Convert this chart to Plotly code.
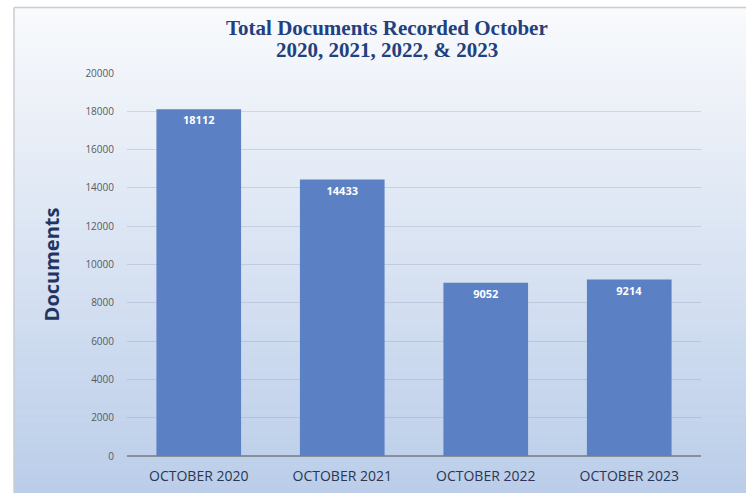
import plotly.graph_objects as go

categories = ["OCTOBER 2020", "OCTOBER 2021", "OCTOBER 2022", "OCTOBER 2023"]
documents = [18112, 14433, 9052, 9214]
y_ticks = list(range(0, 20001, 2000))
y_tick_labels = [str(v) for v in y_ticks]
title_lines = ["Total Documents Recorded October", "2020, 2021, 2022, & 2023"]

W, H = 746, 493
ML, MR, MT, MB = 127, 45, 73, 37
PW, PH = W - ML - MR, H - MT - MB

def px_x(px):
    return (px - ML) / PW

def px_y(py):
    return (H - MB - py) / PH

fig = go.Figure()
fig.add_trace(go.Bar(
    x=categories, y=documents,
    marker=dict(color="#5b80c4", line=dict(width=0)),
    width=0.59,
    text=[str(v) for v in documents],
    textposition="inside", insidetextanchor="end",
    textfont=dict(family="Open Sans", size=11, color="white", weight="bold"),
    cliponaxis=False,
))

# gradient background strips
shapes = []
top_c = (249, 250, 252)
bot_c = (186, 205, 233)
n = 60
y0px, y1px = 8, H
for i in range(n):
    a = y0px + (y1px - y0px) * i / n
    b = y0px + (y1px - y0px) * (i + 1) / n + 0.6
    t = (i + 0.5) / n
    c = tuple(round(top_c[k] + (bot_c[k] - top_c[k]) * t) for k in range(3))
    shapes.append(dict(type="rect", xref="paper", yref="paper", layer="below",
                       x0=px_x(14), x1=px_x(W + 2), y0=px_y(b), y1=px_y(a),
                       fillcolor="rgb(%d,%d,%d)" % c, line=dict(width=0)))
# border lines (left, top)
shapes.append(dict(type="line", xref="paper", yref="paper", layer="below",
                   x0=px_x(14), x1=px_x(14), y0=px_y(H + 2), y1=px_y(7.5),
                   line=dict(color="#c9ccd2", width=1.5)))
shapes.append(dict(type="line", xref="paper", yref="paper", layer="below",
                   x0=px_x(14), x1=px_x(W + 2), y0=px_y(7.5), y1=px_y(7.5),
                   line=dict(color="#c9ccd2", width=1.5)))

annotations = []
for line, ypx in zip(title_lines, [28, 50]):
    annotations.append(dict(
        text="<b>%s</b>" % line, xref="paper", yref="paper",
        x=px_x(387), y=px_y(ypx), xanchor="center", yanchor="middle",
        showarrow=False,
        font=dict(family="Liberation Serif", size=21, color="#23407e"),
    ))

fig.update_layout(
    width=W, height=H,
    margin=dict(l=ML, r=MR, t=MT, b=MB, autoexpand=False),
    paper_bgcolor="white",
    plot_bgcolor="rgba(0,0,0,0)",
    shapes=shapes,
    annotations=annotations,
    showlegend=False,
    bargap=0.41,
    xaxis=dict(
        range=[-0.5, 3.5],
        automargin=False,
        showgrid=False,
        showline=False,
        ticks="",
        tickfont=dict(family="Open Sans", size=14, color="#2b3652"),
        ticklabelstandoff=10,
    ),
    yaxis=dict(
        range=[0, 20000],
        automargin=False,
        tickvals=y_ticks,
        ticktext=y_tick_labels,
        showgrid=True,
        gridcolor="rgba(150,162,185,0.35)",
        gridwidth=1,
        zeroline=True,
        zerolinecolor="#8a8f98",
        zerolinewidth=1.5,
        ticks="",
        tickfont=dict(family="Open Sans", size=10, color="#555a63"),
        ticklabelstandoff=12,
        title=dict(text="<b>Documents</b>",
                   font=dict(family="Open Sans", size=20, color="#1f3564"),
                   standoff=20),
    ),
)

fig.write_html("out.html", config={"displayModeBar": False},
               post_script="document.body.style.margin='0px';document.body.style.overflow='hidden';")
